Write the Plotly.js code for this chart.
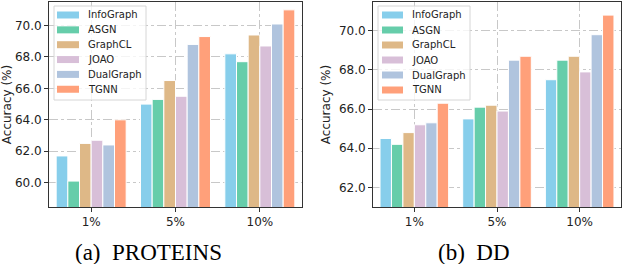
<!DOCTYPE html>
<html>
<head>
<meta charset="utf-8">
<script src="https://cdn.plot.ly/plotly-3.0.1.min.js"></script>
<style>html,body{margin:0;padding:0;background:#fff;}#chart{width:626px;height:264px;}</style>
</head>
<body>
<div id="chart"></div>
<script>
const categories = ["1%", "5%", "10%"];
const methods = ["InfoGraph", "ASGN", "GraphCL", "JOAO", "DualGraph", "TGNN"];
const colors = ["#87CEEB", "#66CDAA", "#DEB887", "#D8BFD8", "#B0C4DE", "#FFA07A"];

// PROTEINS accuracy (%) per method, for 1%, 5%, 10%
const proteins_InfoGraph = [61.7, 65.0, 68.2];
const proteins_ASGN      = [60.1, 65.3, 67.7];
const proteins_GraphCL   = [62.5, 66.5, 69.4];
const proteins_JOAO      = [62.7, 65.5, 68.7];
const proteins_DualGraph = [62.4, 68.8, 70.1];
const proteins_TGNN      = [64.0, 69.3, 71.0];

// DD accuracy (%) per method, for 1%, 5%, 10%
const dd_InfoGraph = [64.5, 65.5, 67.5];
const dd_ASGN      = [64.2, 66.1, 68.5];
const dd_GraphCL   = [64.8, 66.2, 68.7];
const dd_JOAO      = [65.2, 65.9, 67.9];
const dd_DualGraph = [65.3, 68.5, 69.8];
const dd_TGNN      = [66.3, 68.7, 70.8];

const yTicksProteins = [60, 62, 64, 66, 68, 70];
const yTicksDD = [62, 64, 66, 68, 70];

const proteins = [proteins_InfoGraph, proteins_ASGN, proteins_GraphCL, proteins_JOAO, proteins_DualGraph, proteins_TGNN];
const dd = [dd_InfoGraph, dd_ASGN, dd_GraphCL, dd_JOAO, dd_DualGraph, dd_TGNN];

const W = 626, H = 264;
const px = v => v / W;
const py = v => 1 - v / H;

const traces = [];
methods.forEach((m, i) => {
  traces.push({
    type: "bar", name: m, x: categories, y: proteins[i],
    xaxis: "x", yaxis: "y", showlegend: false,
    marker: {color: colors[i], line: {color: "#ffffff", width: 1}}
  });
});
methods.forEach((m, i) => {
  traces.push({
    type: "bar", name: m, x: categories, y: dd[i],
    xaxis: "x2", yaxis: "y2", showlegend: false,
    marker: {color: colors[i], line: {color: "#ffffff", width: 1}}
  });
});

const font = {family: "DejaVu Sans", size: 12, color: "#222"};
const gridStyle = {showgrid: true, gridcolor: "#c8c8c8", griddash: "dashdot", gridwidth: 1};
const xBase = Object.assign({
  type: "category", range: [-0.5, 2.5], showline: true, mirror: true,
  linecolor: "#333", linewidth: 1, ticks: "outside", ticklen: 4, tickcolor: "#333",
  tickfont: font, zeroline: false
}, gridStyle);
const yBase = Object.assign({
  showline: true, mirror: true, linecolor: "#333", linewidth: 1,
  ticks: "outside", ticklen: 4, tickcolor: "#333", tickfont: font,
  tickformat: ".1f", zeroline: false,
  title: {text: "Accuracy (%)", font: font, standoff: 5}
}, gridStyle);

// Hand-built legends (matplotlib-style wide swatches, tight row spacing)
const shapes = [];
const annotations = [];
function addLegend(box, swX0, swX1, textX, rowY0, rowStep) {
  shapes.push({type: "rect", xref: "paper", yref: "paper", layer: "above",
    x0: px(box[0]), x1: px(box[2]), y0: py(box[3]), y1: py(box[1]),
    fillcolor: "rgba(255,255,255,0.8)", line: {color: "#d6d6d6", width: 1}});
  methods.forEach((m, i) => {
    const yc = rowY0 + i * rowStep;
    shapes.push({type: "rect", xref: "paper", yref: "paper", layer: "above",
      x0: px(swX0), x1: px(swX1), y0: py(yc + 3.5), y1: py(yc - 3.5),
      fillcolor: colors[i], line: {width: 0}});
    annotations.push({text: m, xref: "paper", yref: "paper", x: px(textX), y: py(yc),
      xanchor: "left", yanchor: "middle", showarrow: false,
      font: {family: "DejaVu Sans", size: 10, color: "#222"}});
  });
}
addLegend([54, 6, 146, 100], 57, 79, 86, 15, 14.85);
addLegend([378, 6, 470, 100], 382, 403, 410, 15, 15.0);

annotations.push(
  {text: "(a)  PROTEINS", xref: "paper", yref: "paper", x: px(148), y: py(252),
   xanchor: "center", yanchor: "middle", showarrow: false,
   font: {family: "Liberation Serif", size: 23, color: "#000"}},
  {text: "(b)  DD", xref: "paper", yref: "paper", x: px(474), y: py(252),
   xanchor: "center", yanchor: "middle", showarrow: false,
   font: {family: "Liberation Serif", size: 23, color: "#000"}}
);

const layout = {
  width: W, height: H,
  margin: {l: 0, r: 0, t: 0, b: 0},
  paper_bgcolor: "#fff", plot_bgcolor: "#fff",
  showlegend: false,
  barmode: "group", bargap: 0.17, bargroupgap: 0,
  xaxis: Object.assign({}, xBase, {domain: [px(49), px(302)], anchor: "y"}),
  yaxis: Object.assign({}, yBase, {domain: [py(207), py(2)], range: [58.45, 71.5], tickvals: yTicksProteins, anchor: "x"}),
  xaxis2: Object.assign({}, xBase, {domain: [px(373), px(621)], anchor: "y2"}),
  yaxis2: Object.assign({}, yBase, {domain: [py(207), py(2)], range: [61.0, 71.47], tickvals: yTicksDD, anchor: "x2"}),
  shapes: shapes,
  annotations: annotations
};

Plotly.newPlot("chart", traces, layout, {staticPlot: true, displayModeBar: false});
</script>
</body>
</html>
